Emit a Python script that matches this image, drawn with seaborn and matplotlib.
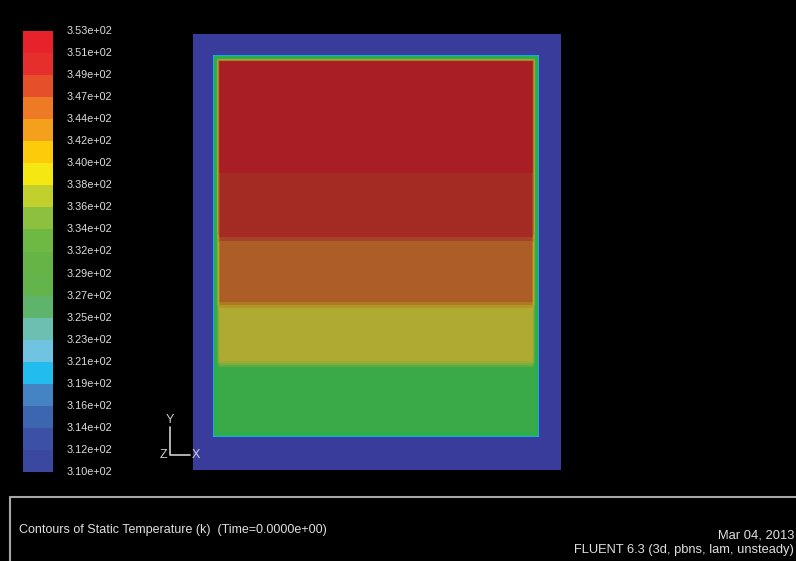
import numpy as np
import matplotlib
matplotlib.use("Agg")
import matplotlib.pyplot as plt
from matplotlib.colors import ListedColormap, BoundaryNorm
import seaborn as sns

# ---- contour scale (K) ----
T_MIN, T_MAX = 310.0, 353.0
N_BANDS = 20

# legend colours, lowest band first
BAR_COLORS = [
    "#3a48a0", "#3c50a6", "#3d66b0", "#4484c4", "#22bcee",
    "#70c4e2", "#6cc0b2", "#5eb46a", "#63b44a", "#66b446",
    "#6eb844", "#8cc03e", "#c2d02e", "#f4e712", "#fccb0a",
    "#f5a01c", "#ee7a25", "#e5502b", "#e62e2c", "#e8222a",
]
# shaded colours used on the lit surface, lowest band first
FIELD_COLORS = [
    "#3a3c9c", "#3a44a2", "#3650aa", "#2e6cba", "#1ca8dc",
    "#20b4c8", "#1eb09a", "#22ae6a", "#28b050", "#3aaa48",
    "#5aac40", "#7eae3a", "#98ac36", "#aeaa32", "#b29624",
    "#b07a24", "#ad5e26", "#a8422a", "#a42a24", "#a81e24",
]

# ---- tank temperature state (stratified layers, bottom to top) ----
T_WALL = 310.0
T_BOUNDARY = 329.0                               # thin layer along the walls
LAYER_T = [330.4, 339.0, 345.5, 349.8, 352.0]
LAYER_EDGES_MM = [106.0, 165.0, 231.0, 297.0]   # heights of layer interfaces
DOMAIN_W_MM, DOMAIN_H_MM = 368.0, 436.0
HOT_BOX_MM = (19.0, 347.0, 32.0, 416.0)         # left, right, bottom, top
OUTER_RAMP_MM = 3.0
INNER_START_MM, INNER_RAMP_MM = 3.5, 5.0
MIX_MM = 12.0

BAR_LABELS = ["%.2e" % v for v in np.linspace(T_MAX, T_MIN, N_BANDS + 1)]

TITLE = "Contours of Static Temperature (k)  (Time=0.0000e+00)"
DATE = "Mar 04, 2013"
SOLVER = "FLUENT 6.3 (3d, pbns, lam, unsteady)"

W, H = 796, 561
sns.set_style("white")
plt.rcParams["font.family"] = ["Liberation Sans", "DejaVu Sans"]


def smoothstep(u):
    u = np.clip(u, 0.0, 1.0)
    return u * u * (3.0 - 2.0 * u)


def px_rect(x0, y0, x1, y1):
    return [x0 / W, 1.0 - y1 / H, (x1 - x0) / W, (y1 - y0) / H]


# temperature field on a fine grid
NX, NY = 368, 436
xs = (np.arange(NX) + 0.5) * DOMAIN_W_MM / NX
ys = (np.arange(NY) + 0.5) * DOMAIN_H_MM / NY
X, Y = np.meshgrid(xs, ys)

t_layer = np.full_like(Y, LAYER_T[0])
for edge, t0, t1 in zip(LAYER_EDGES_MM, LAYER_T[:-1], LAYER_T[1:]):
    t_layer += (t1 - t0) * smoothstep((Y - edge) / MIX_MM + 0.5)

left, right, bottom, top = HOT_BOX_MM
dist = np.minimum.reduce([X - left, right - X, Y - bottom, top - Y])
outer = smoothstep(dist / OUTER_RAMP_MM)
inner = smoothstep((dist - INNER_START_MM) / INNER_RAMP_MM)
field = T_WALL + (T_BOUNDARY - T_WALL) * outer + (t_layer - T_BOUNDARY) * inner

levels = np.linspace(T_MIN, T_MAX, N_BANDS + 1)
norm = BoundaryNorm(levels, N_BANDS)

fig = plt.figure(figsize=(W / 100, H / 100), dpi=100, facecolor="black")

# contour view
ax = fig.add_axes(px_rect(193, 34, 561, 470))
sns.heatmap(field[::-1], ax=ax, cmap=ListedColormap(FIELD_COLORS), norm=norm,
            cbar=False, xticklabels=False, yticklabels=False, rasterized=True)
ax.set_axis_off()

# colour legend
cax = fig.add_axes(px_rect(23, 31, 53, 472))
centers = 0.5 * (levels[:-1] + levels[1:])
sns.heatmap(centers[::-1].reshape(-1, 1), ax=cax, cmap=ListedColormap(BAR_COLORS),
            norm=norm, cbar=False, xticklabels=False)
cax.set_facecolor("black")
cax.yaxis.set_ticks_position("right")
cax.set_yticks(np.arange(N_BANDS + 1))
cax.set_yticklabels(BAR_LABELS, rotation=0, va="center", ha="left",
                    color="#dedede", fontsize=7.8)
cax.tick_params(axis="y", length=0, pad=10)
cax.tick_params(axis="x", length=0)

# overlay for the view triad and the footer
ov = fig.add_axes([0, 0, 1, 1])
ov.set_xlim(0, W)
ov.set_ylim(H, 0)
ov.set_axis_off()
ov.patch.set_alpha(0)

triad = "#cfcfcf"
ov.plot([170, 170, 190], [427, 455, 455], color=triad, lw=1.2)
ov.text(170, 420, "Y", color=triad, fontsize=9, ha="center", va="center")
ov.text(167, 455, "Z", color=triad, fontsize=9, ha="right", va="center")
ov.text(192, 455, "X", color=triad, fontsize=9, ha="left", va="center")

frame = "#a8a8a8"
ov.plot([10, W + 5], [497, 497], color=frame, lw=1.5)
ov.plot([10, 10], [497, H + 5], color=frame, lw=1.5)

ov.text(19, 530, TITLE, color="#e0e0e0", fontsize=9.0, ha="left", va="center")
ov.text(794, 536, DATE, color="#e0e0e0", fontsize=9.3, ha="right", va="center")
ov.text(794, 550, SOLVER, color="#e0e0e0", fontsize=9.3, ha="right", va="center")

fig.savefig("out.png", dpi=100, facecolor="black")
